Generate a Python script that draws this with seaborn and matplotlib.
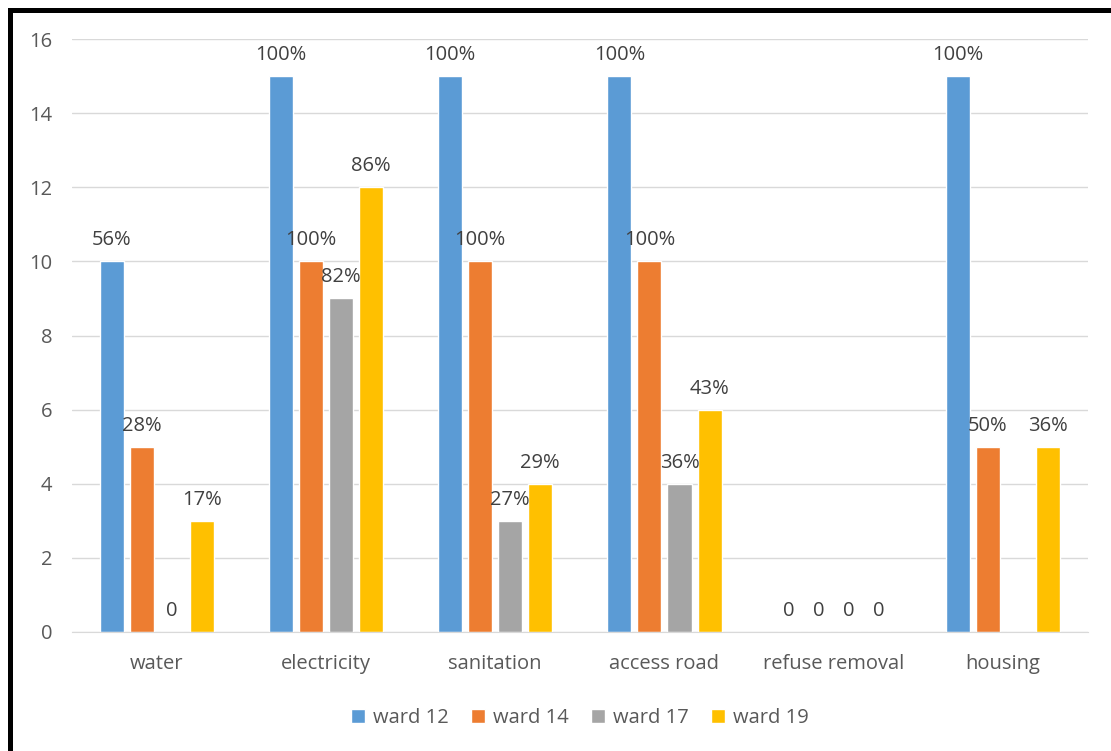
import pandas as pd
import seaborn as sns
import matplotlib.pyplot as plt
from matplotlib.patches import Rectangle

services = ['water', 'electricity', 'sanitation', 'access road', 'refuse removal', 'housing']
wards = ['ward 12', 'ward 14', 'ward 17', 'ward 19']

ward12 = [10, 15, 15, 15, 0, 15]
ward14 = [5, 10, 10, 10, 0, 5]
ward17 = [0, 9, 3, 4, 0, 0]
ward19 = [3, 12, 4, 6, 0, 5]

ward12_pct = ['56%', '100%', '100%', '100%', '0', '100%']
ward14_pct = ['28%', '100%', '100%', '100%', '0', '50%']
ward17_pct = ['0', '82%', '27%', '36%', '0', '']
ward19_pct = ['17%', '86%', '29%', '43%', '0', '36%']

colors = ['#5B9BD5', '#ED7D31', '#A5A5A5', '#FFC000']

rows = []
for ward, vals in zip(wards, [ward12, ward14, ward17, ward19]):
    for s, v in zip(services, vals):
        rows.append({'service': s, 'ward': ward, 'count': v})
df = pd.DataFrame(rows)

sns.set_style('white')
plt.rcParams['font.family'] = ['Open Sans', 'DejaVu Sans']

fig = plt.figure(figsize=(11.11, 7.51), dpi=100)
ax = fig.add_axes([0.0648, 0.1585, 0.9142, 0.7895])

sns.barplot(data=df, x='service', y='count', hue='ward', palette=colors,
            width=0.71, gap=0.2, saturation=1, errorbar=None, ax=ax)

for cont, labs in zip(ax.containers, [ward12_pct, ward14_pct, ward17_pct, ward19_pct]):
    ax.bar_label(cont, labels=labs, padding=8, fontsize=14.5, color='#404040')

ax.set_ylim(0, 16)
ax.set_yticks(range(0, 17, 2))
ax.set_xlim(-0.5, 5.5)
ax.yaxis.grid(True, color='#D9D9D9', linewidth=1)
ax.set_axisbelow(True)
for side in ['left', 'right', 'top']:
    ax.spines[side].set_visible(False)
ax.spines['bottom'].set_color('#D9D9D9')
ax.tick_params(axis='both', length=0, labelsize=14.5, labelcolor='#595959')
ax.tick_params(axis='x', pad=16)
ax.tick_params(axis='y', pad=14)
ax.set_xlabel('')
ax.set_ylabel('')

ax.legend(loc='center', bbox_to_anchor=(0.5, -0.145), ncol=4, frameon=False,
          fontsize=14.5, labelcolor='#595959', handlelength=0.7, handleheight=0.7,
          handletextpad=0.4, columnspacing=1.1)

# black frame (only top and left edges are inside the image)
fig.patches.append(Rectangle((9.5 / 1111, -0.2), 1.3, 1.2 - 9.5 / 751,
                             transform=fig.transFigure, fill=False,
                             edgecolor='black', linewidth=3.6))

plt.savefig('out.png', dpi=100)
